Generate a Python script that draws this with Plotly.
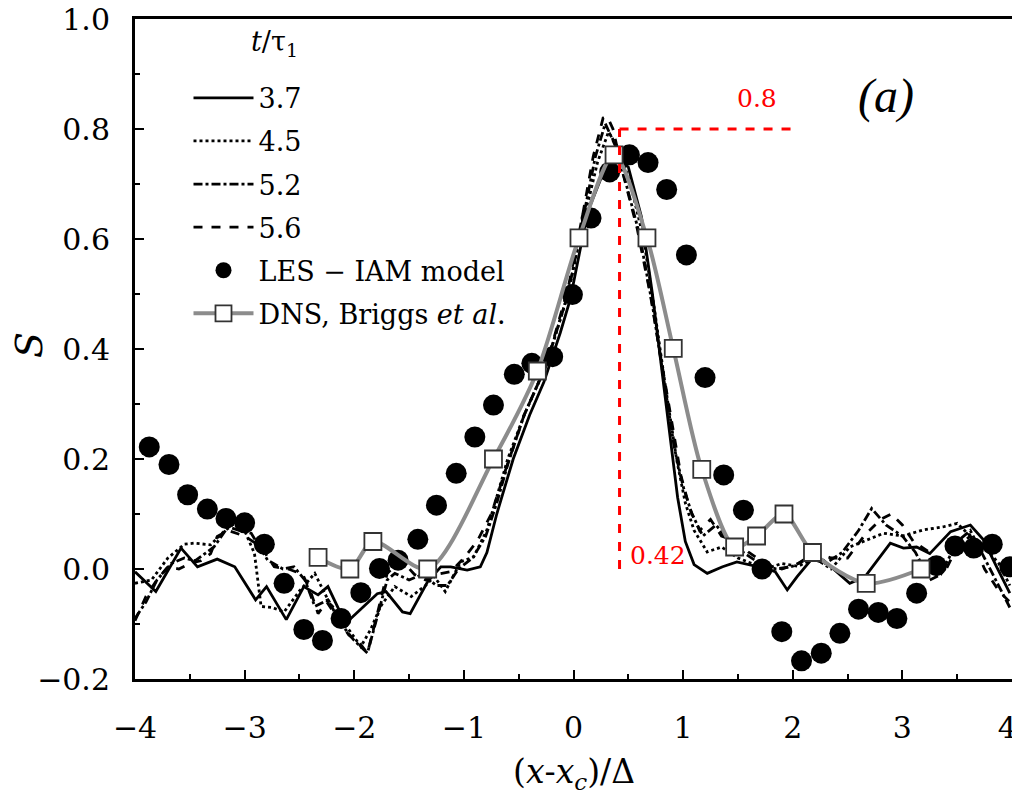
import plotly.graph_objects as go

# ---------------- data ----------------
# t/tau1 = 3.7 (solid)
x37 = [-4.00, -3.81, -3.58, -3.43, -3.25, -3.09, -2.90, -2.80, -2.62, -2.46, -2.33, -2.24,
       -2.08, -1.95, -1.79, -1.71, -1.56, -1.49, -1.33, -1.21, -1.12, -0.97, -0.85, -0.79,
       -0.70, -0.55, -0.40, -0.27, -0.12, -0.03, 0.13, 0.28, 0.38, 0.50, 0.62, 0.72, 0.80,
       0.87, 0.95, 1.02, 1.10, 1.22, 1.36, 1.49, 1.61, 1.75, 1.84, 1.95, 2.04, 2.19, 2.28,
       2.52, 2.66, 2.89, 3.01, 3.13, 3.25, 3.44, 3.62, 3.74, 3.86, 3.98]
y37 = [-0.005, -0.041, 0.038, 0.004, 0.018, 0.004, -0.056, -0.032, -0.092, -0.032, -0.047, -0.032,
       -0.099, -0.075, -0.045, -0.041, -0.078, -0.081, -0.023, 0.004, 0.004, -0.002, 0.004, 0.030,
       0.100, 0.200, 0.280, 0.340, 0.430, 0.490, 0.650, 0.725, 0.750, 0.731, 0.640, 0.500, 0.370,
       0.250, 0.130, 0.050, 0.008, -0.008, 0.004, 0.013, 0.007, 0.001, -0.005, -0.038, -0.014, 0.022, 0.016,
       -0.026, -0.014, 0.047, 0.038, 0.040, 0.028, 0.068, 0.080, 0.053, 0.004, -0.044]

# t/tau1 = 4.5 (dotted)
x45 = [-4.00, -3.85, -3.70, -3.55, -3.46, -3.31, -3.18, -3.09, -3.00, -2.91, -2.85, -2.75,
       -2.64, -2.50, -2.36, -2.24, -2.09, -1.94, -1.85, -1.76, -1.63, -1.48, -1.35, -1.27,
       -1.17, -1.03, -0.91, -0.79, -0.70, -0.60, -0.45, -0.25, -0.05, 0.10, 0.22, 0.32,
       0.42, 0.52, 0.64, 0.74, 0.84, 0.94, 1.02, 1.10, 1.22, 1.35, 1.50, 1.62, 1.75, 1.90,
       2.05, 2.20, 2.35, 2.52, 2.65, 2.83, 3.00, 3.19, 3.38, 3.50, 3.62, 3.75, 3.88, 3.98]
y45 = [-0.026, -0.020, 0.020, 0.045, 0.047, 0.044, 0.070, 0.083, 0.070, 0.028, -0.068, -0.070,
       -0.078, -0.040, -0.008, -0.056, -0.099, -0.141, -0.110, -0.068, -0.032, -0.050, -0.030, -0.014,
       -0.041, 0.013, 0.022, 0.071, 0.131, 0.200, 0.280, 0.370, 0.500, 0.640, 0.740, 0.795,
       0.760, 0.700, 0.600, 0.470, 0.330, 0.200, 0.120, 0.070, 0.031, 0.040, 0.020, 0.010, 0.000, 0.010,
       0.005, 0.020, 0.000, 0.040, 0.050, 0.065, 0.060, 0.071, 0.077, 0.083, 0.060, 0.040, 0.010, -0.030]

# t/tau1 = 5.2 (dash-dot)
x52 = [-4.00, -3.90, -3.80, -3.67, -3.55, -3.45, -3.28, -3.15, -3.05, -2.94, -2.79, -2.65,
       -2.55, -2.45, -2.36, -2.24, -2.12, -2.00, -1.88, -1.78, -1.70, -1.63, -1.50, -1.38,
       -1.25, -1.15, -1.05, -0.92, -0.80, -0.70, -0.60, -0.45, -0.25, -0.05, 0.10, 0.20,
       0.29, 0.38, 0.48, 0.60, 0.72, 0.82, 0.92, 1.00, 1.08, 1.18, 1.30, 1.42, 1.55, 1.70,
       1.85, 2.00, 2.15, 2.30, 2.45, 2.60, 2.72, 2.85, 3.00, 3.12, 3.25, 3.35, 3.50, 3.62,
       3.75, 3.88, 3.98]
y52 = [-0.090, -0.060, -0.020, 0.010, 0.020, 0.015, 0.040, 0.077, 0.070, 0.065, 0.016, 0.000,
       0.004, -0.020, -0.068, -0.056, -0.100, -0.130, -0.153, -0.080, -0.020, -0.008, -0.020, -0.010,
       -0.030, -0.030, 0.000, 0.020, 0.060, 0.120, 0.190, 0.280, 0.370, 0.500, 0.650, 0.750,
       0.810, 0.770, 0.700, 0.610, 0.480, 0.350, 0.220, 0.150, 0.100, 0.060, 0.080, 0.050, 0.030, 0.010,
       0.000, 0.005, 0.020, 0.010, 0.030, 0.070, 0.110, 0.080, 0.060, 0.030, -0.020, -0.010, 0.050, 0.070,
       0.020, -0.030, -0.070]

# t/tau1 = 5.6 (dashed)
x56 = [-4.00, -3.90, -3.80, -3.70, -3.60, -3.50, -3.40, -3.31, -3.25, -3.15, -3.00, -2.85,
       -2.73, -2.60, -2.47, -2.40, -2.33, -2.25, -2.15, -2.05, -1.95, -1.88, -1.80, -1.70,
       -1.57, -1.45, -1.35, -1.25, -1.12, -1.00, -0.88, -0.75, -0.62, -0.45, -0.25, -0.05,
       0.08, 0.18, 0.27, 0.31, 0.36, 0.45, 0.58, 0.70, 0.80, 0.90, 0.98, 1.06, 1.15, 1.25,
       1.35, 1.48, 1.60, 1.75, 1.90, 2.05, 2.20, 2.35, 2.50, 2.65, 2.80, 2.90, 3.00, 3.10,
       3.25, 3.40, 3.50, 3.62, 3.75, 3.88, 3.98]
y56 = [-0.094, -0.050, -0.020, 0.004, 0.000, 0.010, 0.015, 0.028, 0.059, 0.070, 0.060, 0.040,
       0.004, 0.000, -0.010, -0.040, -0.081, -0.060, -0.090, -0.120, -0.135, -0.153, -0.090, -0.008,
       0.016, -0.010, -0.020, -0.010, -0.005, 0.020, 0.050, 0.100, 0.180, 0.280, 0.370, 0.510,
       0.640, 0.750, 0.820, 0.822, 0.800, 0.720, 0.620, 0.500, 0.380, 0.260, 0.170, 0.110, 0.070, 0.090,
       0.060, 0.050, 0.030, 0.010, 0.000, 0.010, 0.030, 0.020, 0.020, 0.060, 0.090, 0.100, 0.080, 0.050,
       0.030, 0.000, 0.040, 0.060, 0.000, -0.040, -0.060]

# LES - IAM model (filled circles)
x_les = [-3.87, -3.69, -3.52, -3.34, -3.17, -3.00, -2.82, -2.64, -2.46, -2.29, -2.12, -1.94,
         -1.77, -1.60, -1.42, -1.25, -1.07, -0.90, -0.73, -0.54, -0.38, -0.19, -0.01, 0.16,
         0.33, 0.51, 0.68, 0.85, 1.03, 1.20, 1.37, 1.55, 1.72, 1.90, 2.08, 2.26, 2.43, 2.60,
         2.78, 2.95, 3.13, 3.31, 3.48, 3.65, 3.82, 3.98]
y_les = [0.222, 0.190, 0.135, 0.109, 0.092, 0.084, 0.045, -0.026, -0.110, -0.130, -0.090, -0.043,
         0.001, 0.016, 0.054, 0.116, 0.174, 0.240, 0.298, 0.354, 0.374, 0.386, 0.499, 0.638,
         0.722, 0.753, 0.739, 0.690, 0.571, 0.348, 0.171, 0.107, 0.000, -0.114, -0.167, -0.153, -0.117, -0.073,
         -0.079, -0.090, -0.044, 0.006, 0.042, 0.038, 0.045, 0.004]

# DNS, Briggs et al. (grey line, open squares)
x_dns = [-2.33, -2.04, -1.83, -1.33, -0.73, -0.33, 0.05, 0.37, 0.67, 0.91, 1.17, 1.47,
         1.67, 1.92, 2.18, 2.67, 3.17]
y_dns = [0.021, 0.000, 0.050, 0.000, 0.200, 0.360, 0.602, 0.753, 0.602, 0.401, 0.181, 0.040,
         0.060, 0.100, 0.030, -0.026, 0.000]

series_names = ["3.7", "4.5", "5.2", "5.6"]
les_name = "LES \u2212 IAM model"
dns_name = "DNS, Briggs <i>et al</i>."

x_ticks = [-4, -3, -2, -1, 0, 1, 2, 3, 4]
x_tick_text = ["\u22124", "\u22123", "\u22122", "\u22121", "0", "1", "2", "3", "4\u00a0"]
y_ticks = [-0.2, 0.0, 0.2, 0.4, 0.6, 0.8, 1.0]
y_tick_text = ["\u22120.2", "0.0", "0.2", "0.4", "0.6", "0.8", "1.0"]

x_title = "(<i>x</i>-<i>x</i><sub><i>c</i></sub>)/\u0394"
y_title = "<i>S</i>"

peak_x = 0.42       # red marker of the peak position
peak_level = 0.8    # red marker of the peak level
peak_line_end = 2.0

# ---------------- figure ----------------
FONT = "DejaVu Serif"
FONT_TIMES = "Liberation Serif"
fig = go.Figure()

dashes = ["solid", "dot", "dashdot", "dash"]
for name, xs, ys, d in zip(series_names, [x37, x45, x52, x56], [y37, y45, y52, y56], dashes):
    fig.add_trace(go.Scatter(x=xs, y=ys, mode="lines", name=name, legendgroup="g" + name,
                             line=dict(color="black", width=2.8, dash=d)))

fig.add_trace(go.Scatter(x=x_les, y=y_les, mode="markers", name=les_name, legendgroup="gles",
                         marker=dict(symbol="circle", size=21, color="black")))

fig.add_trace(go.Scatter(x=x_dns, y=y_dns, mode="lines+markers", name=dns_name, legendgroup="gdns",
                         line=dict(color="#8c8c8c", width=4, shape="spline", smoothing=0.8),
                         marker=dict(symbol="square", size=17, color="white",
                                     line=dict(color="#333333", width=1.8))))

# red guide lines
fig.add_shape(type="line", x0=peak_x, x1=peak_x, y0=0, y1=peak_level,
              line=dict(color="red", width=3, dash="dash"))
fig.add_shape(type="line", x0=peak_x, x1=peak_line_end, y0=peak_level, y1=peak_level,
              line=dict(color="red", width=3, dash="dash"))

fig.add_annotation(x=1.67, y=0.855, text=str(peak_level), showarrow=False,
                   font=dict(family=FONT, size=25, color="red"))
fig.add_annotation(x=peak_x + 0.08, y=-0.005, text=str(peak_x), showarrow=False,
                   xanchor="left", yanchor="bottom",
                   font=dict(family=FONT, size=25, color="red"))
fig.add_annotation(x=2.85, y=0.86, text="<i>(a)</i>", showarrow=False,
                   font=dict(family=FONT_TIMES, size=48, color="black"))
# legend title
fig.add_annotation(x=0.13, y=0.992, xref="paper", yref="paper",
                   text="<i>t</i>/\u03c4<sub>1</sub>", showarrow=False,
                   xanchor="left", yanchor="top",
                   font=dict(family=FONT, size=27, color="black"))
# axis titles
fig.add_annotation(x=0.5, y=-0.108, xref="paper", yref="paper", text=x_title,
                   showarrow=False, xanchor="center", yanchor="top",
                   font=dict(family=FONT, size=33, color="black"))
fig.add_annotation(x=-0.121, y=0.506, xref="paper", yref="paper", text=y_title,
                   showarrow=False, xanchor="center", yanchor="middle", textangle=-90,
                   font=dict(family=FONT, size=38, color="black"))

axis_common = dict(showgrid=False, zeroline=False, showline=True, linecolor="black",
                   linewidth=3, mirror=True, ticks="inside", ticklen=9, tickwidth=1.5,
                   tickcolor="black", automargin=False, ticklabeloverflow="allow",
                   tickfont=dict(family=FONT, size=30, color="black"))

fig.update_xaxes(range=[-4, 4], tickvals=x_ticks, ticktext=x_tick_text,
                 minor=dict(ticks="inside", dtick=0.5, ticklen=5, tickcolor="black", tickwidth=1.5),
                 ticklabelstandoff=20, **axis_common)
fig.update_yaxes(range=[-0.2, 1.0], tickvals=y_ticks, ticktext=y_tick_text,
                 minor=dict(ticks="inside", dtick=0.1, ticklen=5, tickcolor="black", tickwidth=1.5),
                 ticklabelstandoff=16, **axis_common)

# the page body adds an 8px margin, so the figure is sized to fit the 1020x801 window
fig.update_layout(
    width=1012, height=793,
    margin=dict(l=127, r=8, t=11, b=122),
    plot_bgcolor="white", paper_bgcolor="white",
    showlegend=True,
    legend=dict(x=0.061, y=0.917, xanchor="left", yanchor="top",
                bgcolor="rgba(0,0,0,0)", borderwidth=0,
                font=dict(family=FONT, size=27, color="black"),
                itemwidth=60, tracegroupgap=5),
)

fig.write_html("out.html")
